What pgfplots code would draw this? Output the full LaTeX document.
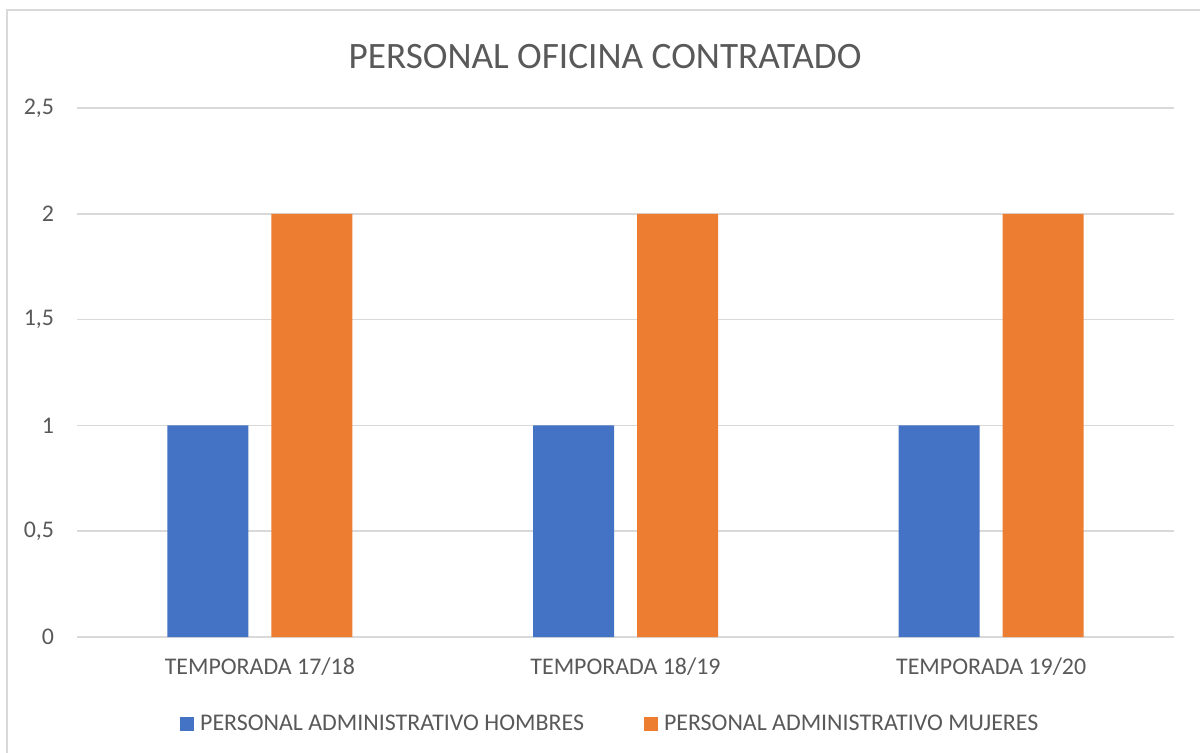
\documentclass[border=0pt]{standalone}
\usepackage{pgfplots}
\pgfplotsset{compat=1.18}
\usepackage{fontspec}
\setmainfont{Carlito}
\definecolor{txt}{HTML}{595959}
\definecolor{gridc}{HTML}{D9D9D9}
\definecolor{cblue}{HTML}{4472C4}
\definecolor{corange}{HTML}{ED7D31}
\begin{document}
\begin{tikzpicture}[x=1bp,y=1bp]
\begin{axis}[
  at={(0,0)}, anchor=south west,
  scale only axis, width=548.5bp, height=264.5bp,
  ybar=11.5bp, bar width=40.5bp,
  xmin=-0.5, xmax=2.5, ymin=0, ymax=2.5,
  xtick=data, xticklabels={TEMPORADA 17/18,TEMPORADA 18/19,TEMPORADA 19/20},
  ytick={0,0.5,1,1.5,2,2.5},
  /pgf/number format/assume math mode=true,
  /pgf/number format/use comma,
  /pgf/number format/1000 sep={},
  yticklabel style={/pgf/number format/fixed},
  major tick length=0pt,
  axis line style={draw=none},
  ymajorgrids, grid style={gridc, line width=0.75bp},
  tick label style={font=\fontsize{12}{14}\selectfont, text=txt},
  yticklabel style={xshift=-8bp},
  xticklabel style={yshift=-7bp},
  legend style={at={(0.487,-0.165)}, anchor=center, draw=none, font=\fontsize{12}{14}\selectfont, text=txt, legend columns=2, /tikz/every even column/.append style={column sep=28bp}, /tikz/every odd column/.append style={column sep=1bp}},
  legend image code/.code={\fill[#1] (0bp,-3.5bp) rectangle (7bp,3.5bp);},
]
\addplot[fill=cblue, draw=none] coordinates {(0,1) (1,1) (2,1)};
\addplot[fill=corange, draw=none] coordinates {(0,2) (1,2) (2,2)};
\legend{PERSONAL ADMINISTRATIVO HOMBRES, PERSONAL ADMINISTRATIVO MUJERES}
\end{axis}
\node[text=txt, font=\fontsize{18.7}{22}\selectfont] at (264bp,290bp) {PERSONAL OFICINA CONTRATADO};
\draw[gridc, line width=1bp] (-35bp,-70bp) rectangle (570bp,313.5bp);
\pgfresetboundingbox
\useasboundingbox (-38.5bp,-58bp) rectangle (561.5bp,318.5bp);
\end{tikzpicture}
\end{document}
